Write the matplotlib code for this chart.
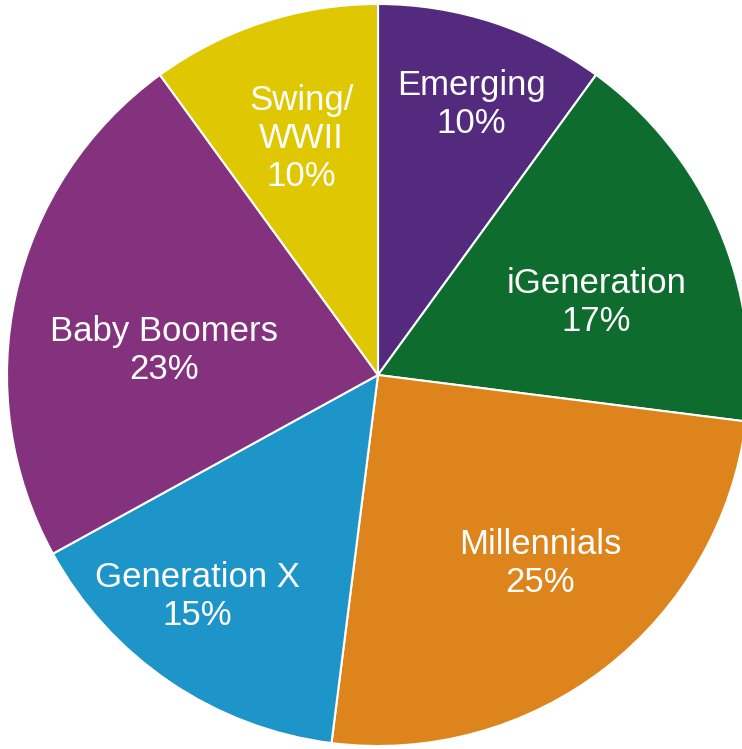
import numpy as np
import matplotlib.pyplot as plt

# generation share of the population, clockwise from 12 o'clock
generations = ["Emerging", "iGeneration", "Millennials", "Generation X",
               "Baby Boomers", "Swing/\nWWII"]
shares = [10, 17, 25, 15, 23, 10]
colors = ["#532a7d", "#0f6c2f", "#dd841c", "#1e95c9", "#84327e", "#dfc702"]

# label placement inside each wedge: radius fraction and angle nudge (deg)
label_radius = [0.77, 0.62, 0.67, 0.77, 0.58, 0.67]
label_nudge = [-1, -5, 3, -5, 6, 0]

plt.rcParams['font.family'] = ['Liberation Sans', 'DejaVu Sans']

fig = plt.figure(figsize=(7.42, 7.49), dpi=100)
ax = fig.add_axes([0, 0, 1, 1])

wedges, _ = ax.pie(shares, colors=colors, startangle=90, counterclock=False,
                   radius=1.0, center=(0, 0),
                   wedgeprops=dict(edgecolor="white", linewidth=1.5))

for w, name, val, r, nudge in zip(wedges, generations, shares,
                                  label_radius, label_nudge):
    ang = np.deg2rad((w.theta1 + w.theta2) / 2 + nudge)
    ax.text(r * np.cos(ang), r * np.sin(ang), f"{name}\n{val}%",
            ha="center", va="center", color="white", fontsize=25,
            linespacing=1.2)

# pie centre sits at pixel (378, 375) with a 371 px radius
ax.set_xlim(-378 / 371, (742 - 378) / 371)
ax.set_ylim(-(749 - 375) / 371, 375 / 371)
ax.set_aspect("auto")
ax.axis("off")

fig.savefig("out.png", dpi=100)
